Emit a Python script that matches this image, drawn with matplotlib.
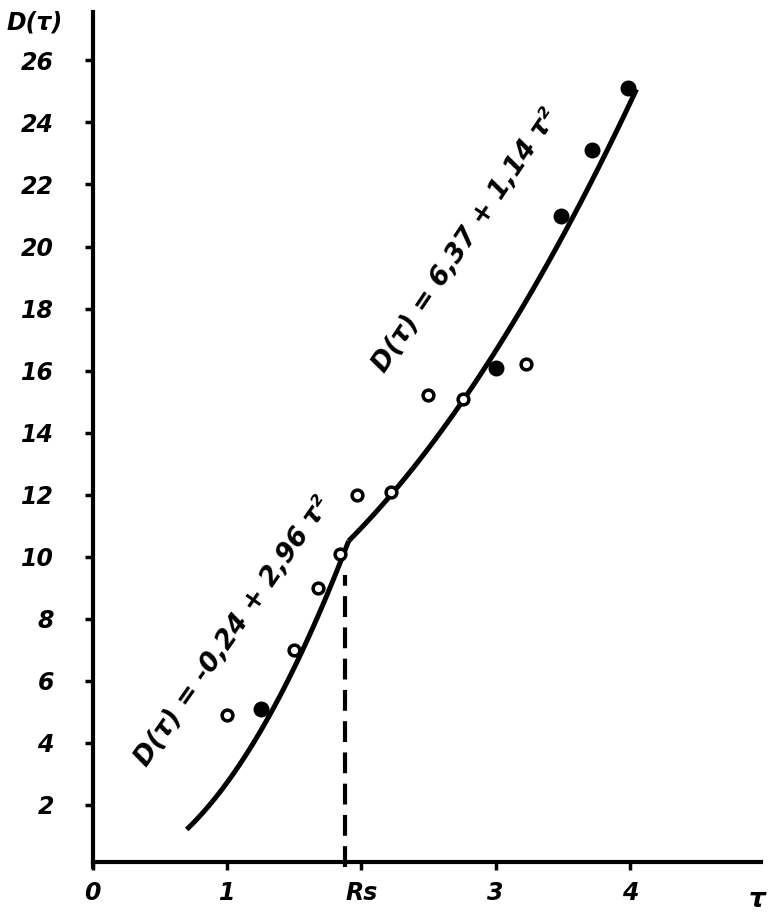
import numpy as np
import matplotlib.pyplot as plt

# measured points (tau, D)
tau_open = [1.0, 1.5, 1.68, 1.84, 1.97, 2.22, 2.5, 2.76, 3.23]
d_open = [4.9, 7.0, 9.0, 10.1, 12.0, 12.1, 15.2, 15.1, 16.2]
tau_filled = [1.25, 3.0, 3.49, 3.72, 3.99]
d_filled = [5.1, 16.1, 21.0, 23.1, 25.1]

# fitted curves D = a + b * tau^2
a1, b1 = -0.24, 2.96
a2, b2 = 6.37, 1.14
tau_start, tau_end = 0.7, 4.05
rs = 1.88

xtick_pos = [0, 1, 2, 3, 4]
xtick_lab = ["0", "1", "Rs", "3", "4"]
ytick_pos = list(range(2, 27, 2))

font = dict(fontweight="bold", fontstyle="italic", family="DejaVu Sans")

fig = plt.figure(figsize=(7.73, 9.19), dpi=100)
ax = fig.add_axes([0.12, 0.0566, 0.865, 0.930])

tau_k = np.sqrt((a2 - a1) / (b1 - b2))
t1 = np.linspace(tau_start, tau_k, 100)
t2 = np.linspace(tau_k, tau_end, 100)
ax.plot(t1, a1 + b1 * t1**2, color="black", lw=3.6, solid_capstyle="butt")
ax.plot(t2, a2 + b2 * t2**2, color="black", lw=3.6, solid_capstyle="butt")

ax.plot([rs, rs], [0, 9.4], color="black", lw=3, ls=(0, (5, 2.5)))

ax.scatter(tau_open, d_open, s=60, facecolor="white", edgecolor="black",
           linewidth=2.5, zorder=5)
ax.scatter(tau_filled, d_filled, s=110, color="black", zorder=5)

ax.text(1.045, 7.6, "D(τ) = -0,24 + 2,96 τ²", rotation=55, fontsize=19,
        ha="center", va="center", **font)
ax.text(2.78, 20.2, "D(τ) = 6,37 + 1,14 τ²", rotation=56, fontsize=19,
        ha="center", va="center", **font)

ax.set_xlim(0, 4.98)
ax.set_ylim(0, 27.55)
for s in ["top", "right"]:
    ax.spines[s].set_visible(False)
ax.spines["left"].set_linewidth(3)
ax.spines["bottom"].set_linewidth(3)
ax.spines["bottom"].set_position(("data", 0.16))

ax.set_xticks(xtick_pos)
ax.set_xticklabels(xtick_lab, fontsize=17, **font)
ax.set_yticks(ytick_pos)
ax.set_yticklabels([str(v) for v in ytick_pos], fontsize=17, **font)
ax.tick_params(axis="x", direction="out", length=6, width=2.5, pad=8)
ax.tick_params(axis="y", direction="out", length=6, width=2.5, pad=22)

ax.text(4.95, -1.05, "τ", fontsize=19, ha="center", va="center", **font)
fig.text(0.045, 0.975, "D(τ)", fontsize=17, ha="center", va="center", **font)

fig.savefig("out.png", dpi=100, facecolor="white")
